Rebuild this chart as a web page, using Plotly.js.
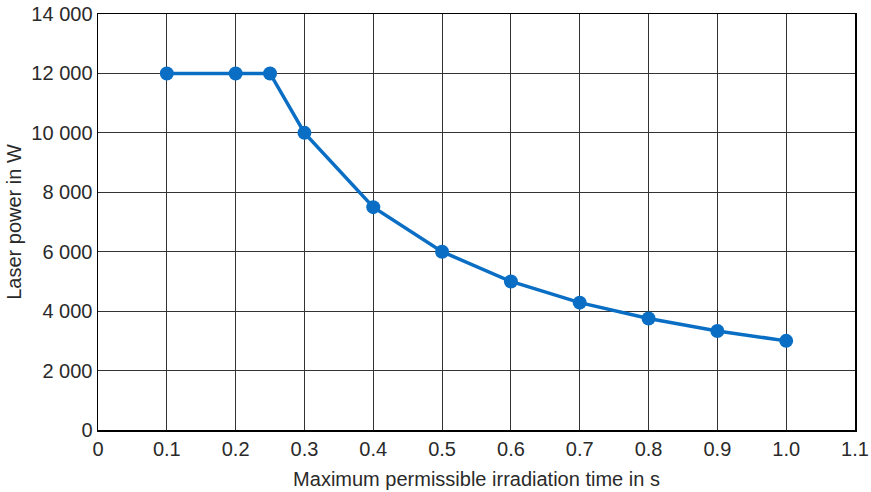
<!DOCTYPE html>
<html>
<head>
<meta charset="utf-8">
<script src="https://cdn.plot.ly/plotly-3.0.1.min.js"></script>
<style>html,body{margin:0;padding:0;background:#fff;}#chart{width:871px;height:492px;}</style>
</head>
<body>
<div id="chart"></div>
<script>
const timeS = [0.1, 0.2, 0.25, 0.3, 0.4, 0.5, 0.6, 0.7, 0.8, 0.9, 1.0];
const powerW = [12000, 12000, 12000, 10000, 7500, 6000, 5000, 4286, 3750, 3333, 3000];
const xTickVals = [0, 0.1, 0.2, 0.3, 0.4, 0.5, 0.6, 0.7, 0.8, 0.9, 1.0, 1.1];
const xTickText = ["0", "0.1", "0.2", "0.3", "0.4", "0.5", "0.6", "0.7", "0.8", "0.9", "1.0", "1.1"];
const yTickVals = [0, 2000, 4000, 6000, 8000, 10000, 12000, 14000];
const yTickText = ["0", "2 000", "4 000", "6 000", "8 000", "10 000", "12 000", "14 000"];

const font = {family: "Liberation Sans, Arial, sans-serif", size: 20, color: "#2a2a2a"};

Plotly.newPlot("chart", [{
  x: timeS, y: powerW, type: "scatter", mode: "lines+markers",
  line: {color: "#0a6fc4", width: 3.5},
  marker: {color: "#0a6fc4", size: 14},
  hoverinfo: "none"
}], {
  width: 871, height: 492,
  margin: {l: 98, r: 16, t: 14, b: 62},
  paper_bgcolor: "#fff", plot_bgcolor: "#fff",
  showlegend: false,
  font: font,
  xaxis: {
    range: [0, 1.1], tickvals: xTickVals, ticktext: xTickText,
    showgrid: true, gridcolor: "#333", gridwidth: 1,
    showline: true, linecolor: "#000", linewidth: 1.5, mirror: true,
    zeroline: false, ticks: "", ticklen: 0,
    title: {text: "Maximum permissible irradiation time in s", font: font, standoff: 13},
    tickfont: font
  },
  yaxis: {
    range: [0, 14000], tickvals: yTickVals, ticktext: yTickText,
    showgrid: true, gridcolor: "#333", gridwidth: 1,
    showline: true, linecolor: "#000", linewidth: 1.5, mirror: true,
    zeroline: false, ticks: "", ticklen: 0,
    title: {text: "Laser power in W", font: font, standoff: 4},
    tickfont: font
  }
}, {displayModeBar: false, staticPlot: true});
</script>
</body>
</html>
